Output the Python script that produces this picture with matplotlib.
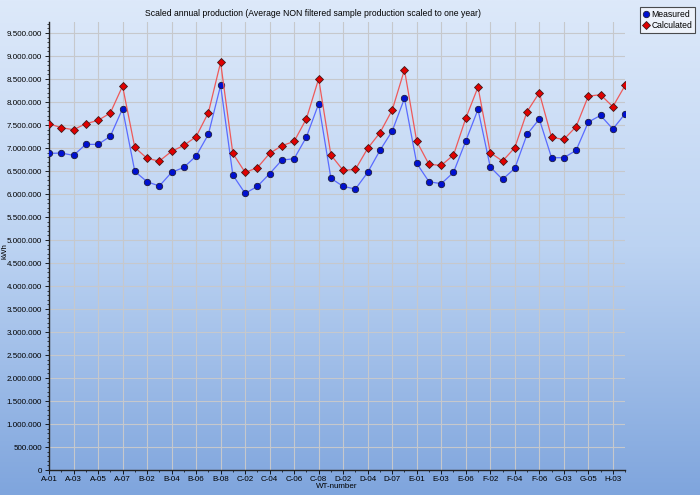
import matplotlib
matplotlib.use("Agg")
import matplotlib.pyplot as plt
import numpy as np
from matplotlib.colors import LinearSegmentedColormap
from matplotlib.lines import Line2D
from matplotlib.ticker import FuncFormatter, MultipleLocator

plt.rcParams["font.family"] = ["Liberation Sans", "DejaVu Sans"]
fs = 5.8

# turbine ids along the x axis
turbines = [
    "A-01", "A-02", "A-03", "A-04", "A-05", "A-06", "A-07",
    "B-01", "B-02", "B-03", "B-04", "B-05", "B-06", "B-07", "B-08",
    "C-01", "C-02", "C-03", "C-04", "C-05", "C-06", "C-07", "C-08",
    "D-01", "D-02", "D-03", "D-04", "D-06", "D-07", "D-08",
    "E-01", "E-02", "E-03", "E-05", "E-06", "E-07",
    "F-02", "F-03", "F-04", "F-05", "F-06",
    "G-02", "G-03", "G-04", "G-05", "H-02", "H-03", "H-04",
]

# kWh per year, millions
measured = [
    6.884, 6.891, 6.841, 7.080, 7.080, 7.254, 7.855,
    6.493, 6.268, 6.174, 6.471, 6.580, 6.826, 7.297, 8.362,
    6.413, 6.014, 6.167, 6.442, 6.739, 6.768, 7.239, 7.964,
    6.341, 6.167, 6.109, 6.471, 6.949, 7.370, 8.080,
    6.667, 6.268, 6.225, 6.471, 7.152, 7.841,
    6.587, 6.319, 6.558, 7.297, 7.630,
    6.790, 6.790, 6.949, 7.565, 7.710, 7.413, 7.746,
]
calculated = [
    7.529, 7.442, 7.399, 7.529, 7.601, 7.761, 8.348,
    7.014, 6.775, 6.717, 6.928, 7.058, 7.246, 7.768, 8.863,
    6.884, 6.471, 6.572, 6.884, 7.051, 7.145, 7.638, 8.507,
    6.848, 6.514, 6.536, 6.993, 7.333, 7.826, 8.703,
    7.145, 6.645, 6.623, 6.848, 7.645, 8.326,
    6.899, 6.717, 7.007, 7.790, 8.203,
    7.232, 7.188, 7.464, 8.130, 8.159, 7.899, 8.362,
]

x = np.arange(len(turbines))
meas = np.array(measured) * 1e6
calc = np.array(calculated) * 1e6

fig = plt.figure(figsize=(7, 4.95), dpi=100)

# gradient background
bg = fig.add_axes([0, 0, 1, 1], zorder=-10)
cmap = LinearSegmentedColormap.from_list("bg", ["#dde9fa", "#bcd3f2", "#7fa5dd"])
bg.imshow(np.linspace(0, 1, 256).reshape(-1, 1), aspect="auto", cmap=cmap,
          extent=[0, 1, 0, 1], origin="upper")
bg.axis("off")

ax = fig.add_axes([0.07, 0.0505, 0.823, 0.905])
ax.set_facecolor("none")

ax.plot(x, meas, color="#5a6bff", linewidth=0.9, marker="o", markersize=4.6,
        markerfacecolor="#0010d0", markeredgecolor="#1a1a40", markeredgewidth=0.6, zorder=3)
ax.plot(x, calc, color="#ee5a5a", linewidth=0.9, marker="D", markersize=4.2,
        markerfacecolor="#e00000", markeredgecolor="#401a1a", markeredgewidth=0.6, zorder=4)

ax.set_xlim(0, len(turbines) - 1)
ax.set_ylim(0, 9.74e6)
ax.set_xticks(x[::2])
ax.set_xticklabels(turbines[::2], fontsize=fs)
ax.set_xticks(x, minor=True)
ax.yaxis.set_major_locator(MultipleLocator(500000))
ax.yaxis.set_minor_locator(MultipleLocator(100000))
ax.yaxis.set_major_formatter(FuncFormatter(lambda v, p: f"{int(round(v)):,}".replace(",", ".")))
ax.tick_params(axis="y", labelsize=fs, length=3, width=0.6, pad=2)
ax.tick_params(axis="x", length=3, width=0.6, pad=1.5)
ax.tick_params(which="minor", length=1.5, width=0.5)

ax.grid(True, color="#c6c8cc", linewidth=0.8, zorder=0)
ax.set_axisbelow(True)
for side in ["top", "right"]:
    ax.spines[side].set_visible(False)
for side in ["left", "bottom"]:
    ax.spines[side].set_color("#222222")
    ax.spines[side].set_linewidth(1.0)

ax.set_xlabel("WT-number", fontsize=fs, labelpad=0)
ax.set_ylabel("kWh", fontsize=fs)
ax.yaxis.set_label_coords(-0.07, 0.4877)

fig.text(0.447, 0.972, "Scaled annual production (Average NON filtered sample production scaled to one year)",
         ha="center", va="center", fontsize=6.2)

handles = [
    Line2D([], [], linestyle="none", marker="o", markersize=4.6, markerfacecolor="#0010d0",
           markeredgecolor="#1a1a40", markeredgewidth=0.6),
    Line2D([], [], linestyle="none", marker="D", markersize=4.2, markerfacecolor="#e00000",
           markeredgecolor="#401a1a", markeredgewidth=0.6),
]
leg = fig.legend(handles, ["Measured", "Calculated"], loc="upper right",
                 bbox_to_anchor=(0.993, 0.985), fontsize=6.2, frameon=True, fancybox=False,
                 handlelength=0.8, handletextpad=0.3, borderpad=0.3, labelspacing=0.25,
                 borderaxespad=0)
leg.get_frame().set_edgecolor("#222222")
leg.get_frame().set_facecolor("#f4f7fc")
leg.get_frame().set_linewidth(0.8)

fig.savefig("out.png", dpi=100)
